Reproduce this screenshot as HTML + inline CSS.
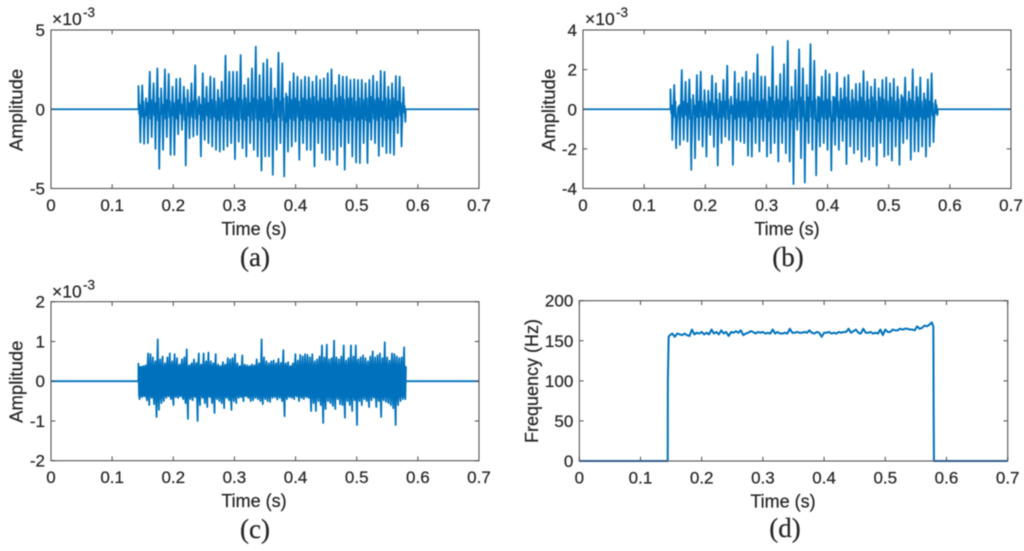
<!DOCTYPE html>
<html lang="en">
<head>
<meta charset="utf-8">
<title>Signal amplitude and frequency panels</title>
<style>
html,body{margin:0;padding:0;background:#fff;width:1024px;height:551px;overflow:hidden}
svg{display:block}
</style>
</head>
<body>
<svg id="figure" xmlns="http://www.w3.org/2000/svg" width="1024" height="551" viewBox="0 0 1024 551">
  <defs>
    <filter id="soft" x="-2%" y="-2%" width="104%" height="104%"><feGaussianBlur stdDeviation="0.42"/></filter>
  </defs>
  <rect width="1024" height="551" fill="#ffffff"/>
  <g id="root" filter="url(#soft)"></g>
</svg>
<script>
const xTicks = [0, 0.1, 0.2, 0.3, 0.4, 0.5, 0.6, 0.7];
const xTickLabels = ['0', '0.1', '0.2', '0.3', '0.4', '0.5', '0.6', '0.7'];
const yTicksA = [-5, 0, 5];
const yTickLabelsA = ['-5', '0', '5'];
const yTicksB = [-4, -2, 0, 2, 4];
const yTickLabelsB = ['-4', '-2', '0', '2', '4'];
const yTicksC = [-2, -1, 0, 1, 2];
const yTickLabelsC = ['-2', '-1', '0', '1', '2'];
const yTicksD = [0, 50, 100, 150, 200];
const yTickLabelsD = ['0', '50', '100', '150', '200'];

const signalStart = 0.143;
const signalEnd = 0.5795;

const peaksUpA = [
1.47,1.51,.69,2.37,1.64,2.58,1.32,2.52,2.23,1.43,
1.91,1.95,1.43,1.22,1.64,2.77,.8,2.27,1.43,2.06,
1.95,1.22,1.74,3.38,2.37,2.37,2.37,3.42,1.53,1.95,
2.58,3.95,2.16,2.9,3.15,2.58,1.32,3.57,2.9,1.0,
1.74,2.27,2.06,1.85,2.06,2.02,1.74,2.1,1.85,1.95,
2.27,2.52,1.53,2.16,2.06,2.06,1.85,1.89,1.85,1.85,
1.64,1.85,2.12,1.74,2.42,2.37,1.43,1.64,2.1,2.06,
1.39];
const peaksDownA = [
-2.1,-2.18,-2.14,-1.76,-2.5,-3.76,-2.56,-1.76,-2.88,-2.88,
-1.58,-1.3,-3.55,-1.83,-1.72,-1.62,-2.98,-1.93,-2.14,-2.35,
-2.56,-2.67,-2.56,-2.35,-2.14,-3.15,-2.04,-2.46,-2.98,-2.14,
-2.56,-2.98,-3.87,-2.98,-2.98,-4.14,-2.56,-2.14,-4.24,-2.67,
-2.35,-2.04,-3.19,-2.14,-2.56,-2.56,-3.61,-2.14,-2.77,-3.19,
-3.19,-2.56,-3.51,-2.35,-3.82,-2.14,-2.98,-3.36,-3.4,-2.14,
-3.4,-1.93,-2.14,-2.94,-2.35,-2.77,-2.77,-2.88,-1.51,-2.35,
-.8];
const rippleA = [
.3,.5,.4,.6,.4,.7,.3,.6,.5,.4,
.6,.3,.7,.4,.5,.6,.3,.7,.4,.6,
.5,.7,.4,.6,.7,.5,.7,.6,.7,.4,
.7,.6,.7,.5,.8,.6,.7,.5,.7,.8,
.6,.7,.5,.7,.6,.7,.8,.5,.7,.6,
.7,.5,.7,.8,.6,.7,.7,.5,.7,.6,
.7,.8,.6,.7,.5,.7,.6,.7,.5,.4,
.2];

const peaksUpB = [
1.01,1.23,.10,1.98,1.39,1.51,.72,1.73,1.90,.97,
.94,1.70,1.31,.81,1.48,2.2,.64,1.9,1.31,1.6,
1.9,1.48,1.82,2.77,1.65,1.65,1.11,3.16,1.18,1.78,
2.27,3.46,1.14,1.98,3.03,2.07,1.23,3.29,2.45,.64,
1.65,1.96,1.78,.64,1.85,1.06,1.61,1.73,.97,1.28,
1.31,1.93,1.39,1.14,1.51,1.06,1.48,1.61,1.31,1.54,
1.14,.72,1.6,.89,2.02,1.14,1.61,.81,1.51,1.82,
.47];
const peaksDownB = [
-1.55,-1.97,-1.8,-1.55,-1.63,-3.06,-2.47,-1.55,-1.88,-2.39,
-1.3,-1.9,-2.84,-1.71,-1.38,-1.55,-2.81,-1.55,-1.63,-1.71,
-2.34,-2.39,-1.71,-2.13,-1.6,-2.39,-2.22,-1.71,-2.64,-1.71,
-2.22,-2.64,-3.78,-1.04,-2.47,-3.7,-1.71,-2.05,-3.34,-1.88,
-1.71,-2.05,-3.09,-1.8,-2.05,-1.6,-2.77,-1.88,-2.22,-2.05,
-2.64,-2.39,-2.55,-1.88,-2.84,-1.7,-2.39,-2.3,-2.59,-1.88,
-2.81,-1.71,-1.5,-2.55,-2.13,-2.13,-1.88,-2.39,-1.88,-1.66,
-.3];
const rippleB = [
.2,.4,.2,.4,.3,.5,.2,.4,.4,.3,
.4,.3,.5,.4,.4,.5,.2,.5,.4,.4,
.4,.6,.4,.4,.5,.4,.6,.4,.5,.4,
.6,.4,.5,.4,.6,.4,.6,.4,.5,.6,
.4,.5,.4,.6,.4,.5,.6,.4,.5,.4,
.6,.4,.5,.6,.4,.6,.5,.4,.6,.4,
.5,.6,.4,.5,.4,.6,.4,.5,.4,.3,
.2];

const noiseUpC = [
.44,.36,.38,.40,.70,.68,.60,.50,1.05,.55,
.62,.45,.60,.70,.50,.68,.58,.42,.55,.60,
.80,.40,.45,.55,.46,.70,.42,.70,.50,.72,
.50,.45,.68,.42,.38,.48,.42,.58,.55,.58,
.68,.45,.38,.65,.42,.40,.38,.42,.40,.55,
.45,1.05,.60,.50,.45,.50,.52,.45,.56,.46,
.78,.45,.48,.38,.45,.68,.52,.66,.62,.68,
.66,.60,.68,.50,.55,.62,.90,.60,.92,.55,
.58,1.02,.60,.55,.62,.90,.52,.58,.90,.62,
.90,.55,.60,.65,.58,.50,.62,.75,.60,.65,
.70,.58,.98,.60,.52,.70,.68,.62,.58,.60,.85];
const noiseDownC = [
-.45,-.40,-.38,-.48,-.60,-.42,-.58,-.90,-.72,-.55,
-.50,-.42,-.38,-.45,-.60,-.40,-.42,-.38,-.45,-.55,
-.95,-.45,-.48,-.40,-1.0,-.60,-.42,-.55,-.65,-.40,
-.55,-.80,-.45,-.50,-.55,-.68,-.42,-.48,-.72,-.50,
-.55,-.42,-.40,-.50,-.38,-.42,-.50,-.48,-.42,-.45,
-.50,-.58,-.45,-.50,-.52,-.42,-.40,-.46,-.42,-.50,
-.88,-.45,-.40,-.42,-.45,-.38,-.50,-.42,-.45,-.40,
-.42,-.75,-.55,-.75,-.50,-.60,-1.05,-.70,-.50,-.55,
-.62,-.70,-.45,-.58,-.60,-.92,-.50,-.60,-.75,-.48,
-1.10,-.50,-.60,-.45,-.50,-.65,-.48,-.42,-.65,-.50,
-.90,-.48,-.52,-.55,-.60,-.68,-1.10,-.60,-.50,-.45,-.45];

const plateauStart = 0.148;
const plateauStep = 0.004;
const frequencyPlateau = [
157,159,155,159,158,157,159,157,156,164,
158,160,159,161,158,160,158,164,159,161,
158,163,159,161,156,161,160,162,160,163,
157,159,160,162,161,159,161,160,161,159,
160,159,164,159,161,159,159,160,159,165,
160,160,161,160,160,161,160,163,160,159,
161,160,155,160,160,161,159,160,159,161,
160,161,161,165,160,162,164,160,159,165,
160,160,161,159,160,159,164,157,164,161,
161,164,163,163,165,164,165,165,164,164,
163,168,165,166,169,168,170,173];
const frequencyRiseTimes = [0, 0.1445, 0.1447, 0.146];
const frequencyRiseValues = [0, 0, 100, 155];
const frequencyFallTimes = [0.5785, 0.579, 0.5795, 0.7];
const frequencyFallValues = [168, 60, 0, 0];

const NS = 'http://www.w3.org/2000/svg';
const root = document.getElementById('root');
const LINE = '#0072BD';
const INK = '#262626';
const FRAME = '#4d4d4d';

function svgEl(tag, attrs, parent) {
  const el = document.createElementNS(NS, tag);
  for (const k in attrs) el.setAttribute(k, attrs[k]);
  parent.appendChild(el);
  return el;
}

function label(parent, text, x, y, size, anchor, family, name, rotate) {
  const el = svgEl('text', {x: x, y: y, 'font-size': size, 'text-anchor': anchor, 'font-family': family, fill: INK, stroke: INK, 'stroke-width': 0.22}, parent);
  if (rotate) el.setAttribute('transform', 'rotate(-90 ' + x + ' ' + y + ')');
  el.textContent = text;
  
  
  return el;
}

const SANS = '"Liberation Sans", sans-serif';
const SERIF = '"Liberation Serif", serif';

function drawPanel(cfg) {
  const g = svgEl('g', {}, root);
  
  
  const xPos = v => cfg.left + (v - 0) / 0.7 * (cfg.right - cfg.left);
  const yMin = cfg.yTicks[0];
  const yMax = cfg.yTicks[cfg.yTicks.length - 1];
  const yPos = v => cfg.bottom - (v - yMin) / (yMax - yMin) * (cfg.bottom - cfg.top);

  const pts = cfg.points;
  const d = pts.map((p, i) => (i ? 'L' : 'M') + xPos(p[0]).toFixed(2) + ' ' + yPos(p[1]).toFixed(2)).join('');
  const line = svgEl('path', {d: d, fill: 'none', stroke: LINE, 'stroke-width': cfg.width, 'stroke-linejoin': 'round'}, g);
  
  

  const frame = svgEl('rect', {x: cfg.left, y: cfg.top, width: cfg.right - cfg.left, height: cfg.bottom - cfg.top, fill: 'none', stroke: FRAME, 'stroke-width': 1.05}, g);
  
  

  xTicks.forEach((t, i) => {
    const x = xPos(t);
    const tick = svgEl('path', {d: 'M' + x + ' ' + cfg.bottom + 'v-4.3M' + x + ' ' + cfg.top + 'v4.3', stroke: FRAME, 'stroke-width': 1, fill: 'none'}, g);
    
    
    label(g, xTickLabels[i], x, cfg.bottom + 22.5, 17, 'middle', SANS, 'x-tick-label');
  });
  cfg.yTicks.forEach((t, i) => {
    const y = yPos(t);
    const tick = svgEl('path', {d: 'M' + cfg.left + ' ' + y + 'h4.3M' + cfg.right + ' ' + y + 'h-4.3', stroke: FRAME, 'stroke-width': 1, fill: 'none'}, g);
    
    
    label(g, cfg.yLabels[i], cfg.left - 6, y + 6, 17, 'end', SANS, 'y-tick-label');
  });

  label(g, 'Time (s)', cfg.xTitleX, cfg.bottom + 46.5, 18, 'middle', SANS, 'x-axis-title');
  label(g, cfg.yTitle, cfg.yTitleX, cfg.yTitleY, cfg.yTitleSize, 'middle', SANS, 'y-axis-title', true);
  label(g, cfg.caption, cfg.captionX, cfg.captionY, 27, 'middle', SERIF, 'panel-caption');
  if (cfg.expX !== undefined) {
    label(g, '×10', cfg.expX, cfg.expY, 17.5, 'start', SANS, 'exponent-base');
    label(g, '-3', cfg.expX + 31, cfg.expY - 8, 13.5, 'start', SANS, 'exponent-power');
  }
}

function waveform(ups, downs, ripple) {
  const n = ups.length;
  const dt = (signalEnd - signalStart) / (n - 0.5);
  const pts = [[0, 0], [signalStart, 0]];
  for (let i = 0; i < n; i++) {
    const t = signalStart + i * dt;
    pts.push([t, ups[i]]);
    pts.push([t + dt * 0.09, ups[i] * 0.6]);
    pts.push([t + dt * 0.2, -ripple[i]]);
    pts.push([t + dt * 0.32, ripple[i]]);
    pts.push([t + dt * 0.42, downs[i] * 0.6]);
    pts.push([t + dt * 0.5, downs[i]]);
    pts.push([t + dt * 0.58, downs[i] * 0.6]);
  }
  pts.push([signalEnd + dt * 0.1, 0]);
  pts.push([0.7, 0]);
  return pts;
}

function noiseBand(ups, downs) {
  const n = ups.length;
  const dt = (signalEnd - signalStart) / (n - 0.5);
  const pts = [[0, 0], [signalStart, 0]];
  for (let i = 0; i < n; i++) {
    const t = signalStart + i * dt;
    pts.push([t, ups[i]]);
    pts.push([t + dt * 0.25, -0.36]);
    pts.push([t + dt * 0.5, downs[i]]);
    pts.push([t + dt * 0.75, 0.36]);
  }
  pts.push([signalEnd + dt * 0.1, 0]);
  pts.push([0.7, 0]);
  return pts;
}

function frequencyLine() {
  const pts = frequencyRiseTimes.map((t, i) => [t, frequencyRiseValues[i]]);
  frequencyPlateau.forEach((v, i) => pts.push([plateauStart + i * plateauStep, v]));
  frequencyFallTimes.forEach((t, i) => pts.push([t, frequencyFallValues[i]]));
  return pts;
}

drawPanel({id: 'a', left: 51, right: 479, top: 30, bottom: 188.5, yTicks: yTicksA, yLabels: yTickLabelsA,
  points: waveform(peaksUpA, peaksDownA, rippleA), width: 1.75,
  xTitleX: 254, yTitle: 'Amplitude', yTitleX: 22.7, yTitleY: 110, yTitleSize: 18.5,
  caption: '(a)', captionX: 255, captionY: 266, expX: 52, expY: 25});
drawPanel({id: 'b', left: 583, right: 1011, top: 30, bottom: 188.5, yTicks: yTicksB, yLabels: yTickLabelsB,
  points: waveform(peaksUpB, peaksDownB, rippleB), width: 1.75,
  xTitleX: 787, yTitle: 'Amplitude', yTitleX: 555, yTitleY: 110, yTitleSize: 18.5,
  caption: '(b)', captionX: 788, captionY: 266, expX: 585, expY: 25});
drawPanel({id: 'c', left: 51, right: 479, top: 301.7, bottom: 460.7, yTicks: yTicksC, yLabels: yTickLabelsC,
  points: noiseBand(noiseUpC, noiseDownC), width: 1.8,
  xTitleX: 254, yTitle: 'Amplitude', yTitleX: 22.7, yTitleY: 381.7, yTitleSize: 18.5,
  caption: '(c)', captionX: 255, captionY: 538, expX: 52, expY: 297.5});
drawPanel({id: 'd', left: 579.3, right: 1007.7, top: 300.7, bottom: 461, yTicks: yTicksD, yLabels: yTickLabelsD,
  points: frequencyLine(), width: 2,
  xTitleX: 783, yTitle: 'Frequency (Hz)', yTitleX: 538, yTitleY: 381, yTitleSize: 18,
  caption: '(d)', captionX: 785, captionY: 537});
</script>
</body>
</html>
